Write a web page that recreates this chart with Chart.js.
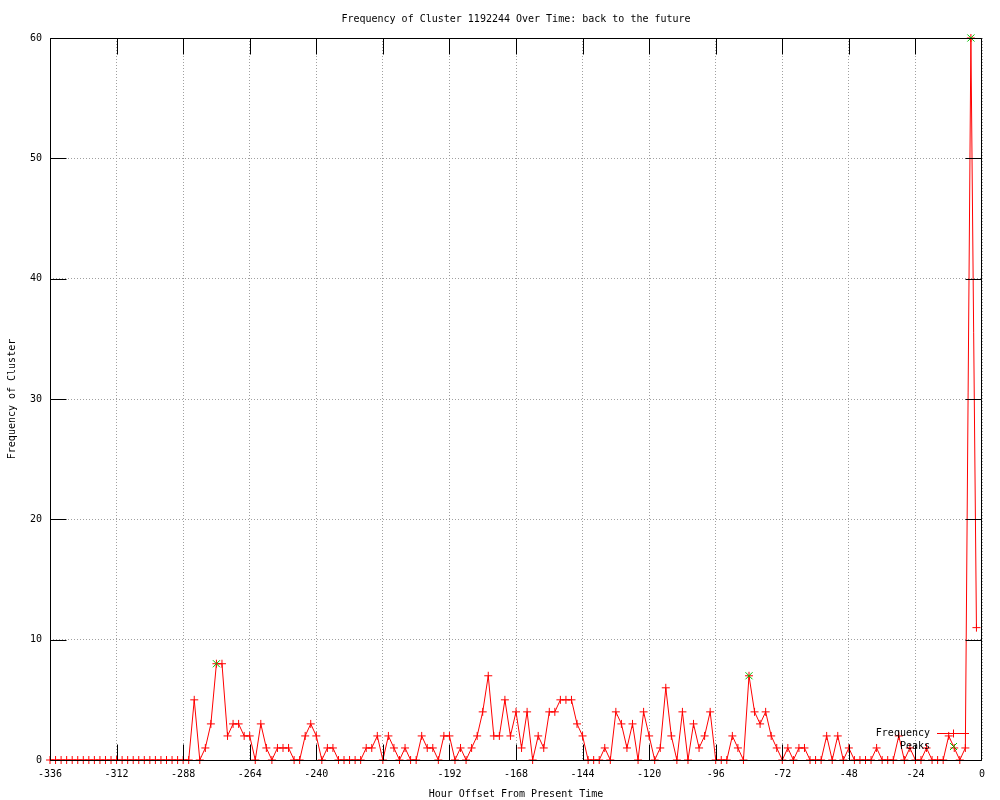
<!DOCTYPE html>
<html>
<head>
<meta charset="utf-8">
<script src="https://cdn.jsdelivr.net/npm/chart.js@4/dist/chart.umd.min.js"></script>
<style>
  body { margin: 0; background: #fff; }
  canvas { display: block; }
</style>
</head>
<body>
<canvas id="freq-chart" width="1000" height="800"></canvas>
<script>
const titleText = 'Frequency of Cluster 1192244 Over Time: back to the future';

// hour offsets, every 2 hours
const hours = [
  -336, -334, -332, -330, -328, -326, -324, -322, -320, -318, -316, -314,
  -312, -310, -308, -306, -304, -302, -300, -298, -296, -294, -292, -290,
  -288, -286, -284, -282, -280, -278, -276, -274, -272, -270, -268, -266,
  -264, -262, -260, -258, -256, -254, -252, -250, -248, -246, -244, -242,
  -240, -238, -236, -234, -232, -230, -228, -226, -224, -222, -220, -218,
  -216, -214, -212, -210, -208, -206, -204, -202, -200, -198, -196, -194,
  -192, -190, -188, -186, -184, -182, -180, -178, -176, -174, -172, -170,
  -168, -166, -164, -162, -160, -158, -156, -154, -152, -150, -148, -146,
  -144, -142, -140, -138, -136, -134, -132, -130, -128, -126, -124, -122,
  -120, -118, -116, -114, -112, -110, -108, -106, -104, -102, -100, -98,
  -96, -94, -92, -90, -88, -86, -84, -82, -80, -78, -76, -74,
  -72, -70, -68, -66, -64, -62, -60, -58, -56, -54, -52, -50,
  -48, -46, -44, -42, -40, -38, -36, -34, -32, -30, -28, -26,
  -24, -22, -20, -18, -16, -14, -12, -10, -8, -6, -4, -2
];

const frequency = [
  0, 0, 0, 0, 0, 0, 0, 0, 0, 0, 0, 0,
  0, 0, 0, 0, 0, 0, 0, 0, 0, 0, 0, 0,
  0, 0, 5, 0, 1, 3, 8, 8, 2, 3, 3, 2,
  2, 0, 3, 1, 0, 1, 1, 1, 0, 0, 2, 3,
  2, 0, 1, 1, 0, 0, 0, 0, 0, 1, 1, 2,
  0, 2, 1, 0, 1, 0, 0, 2, 1, 1, 0, 2,
  2, 0, 1, 0, 1, 2, 4, 7, 2, 2, 5, 2,
  4, 1, 4, 0, 2, 1, 4, 4, 5, 5, 5, 3,
  2, 0, 0, 0, 1, 0, 4, 3, 1, 3, 0, 4,
  2, 0, 1, 6, 2, 0, 4, 0, 3, 1, 2, 4,
  0, 0, 0, 2, 1, 0, 7, 4, 3, 4, 2, 1,
  0, 1, 0, 1, 1, 0, 0, 0, 2, 0, 2, 0,
  1, 0, 0, 0, 0, 1, 0, 0, 0, 2, 0, 1,
  0, 0, 1, 0, 0, 0, 2, 1, 0, 1, 60, 11
];

const peakHours = [-276, -84, -4];
const peakValues = [8, 7, 60];

const freqColor = '#ff0000';
const peakColor = '#00c000';

const monoFont = { family: '"DejaVu Sans Mono", "Liberation Mono", monospace', size: 10 };

// border, inward ticks, title and legend drawn gnuplot-style
const framePlugin = {
    id: 'frame',
    afterDatasetsDraw(chart) {
        const { ctx, chartArea: a, scales } = chart;
        const x = scales.x, y = scales.y;
        const tick = 16;
        const L = Math.round(a.left) + 0.5, R = Math.round(a.right) - 0.5;
        const T = Math.round(a.top) + 0.5, B = Math.round(a.bottom) + 0.5;
        ctx.save();
        ctx.strokeStyle = '#000';
        ctx.lineWidth = 1;
        ctx.setLineDash([]);
        ctx.beginPath();
        x.ticks.forEach(t => {
            const px = Math.min(Math.round(x.getPixelForValue(t.value)) + 0.5, R);
            ctx.moveTo(px, B); ctx.lineTo(px, B - tick);
            ctx.moveTo(px, T); ctx.lineTo(px, T + tick);
        });
        y.ticks.forEach(t => {
            const py = Math.round(y.getPixelForValue(t.value)) + 0.5;
            ctx.moveTo(L, py); ctx.lineTo(L + tick, py);
            ctx.moveTo(R, py); ctx.lineTo(R - tick, py);
        });
        ctx.rect(L, T, R - L, B - T);
        ctx.stroke();

        ctx.fillStyle = '#000';
        ctx.font = '10px ' + monoFont.family;
        ctx.textBaseline = 'middle';
        ctx.textAlign = 'center';
        ctx.fillText(titleText, (a.left + a.right) / 2, 19);

        // legend
        const textRight = Math.round(a.right) - 52;
        const sx1 = Math.round(a.right) - 45, sx2 = Math.round(a.right) - 13;
        const mx = Math.round((sx1 + sx2) / 2) + 0.5;
        const y1 = Math.round(a.bottom) - 27 + 0.5, y2 = y1 + 13;
        ctx.textAlign = 'right';
        ctx.fillText('Frequency', textRight, y1);
        ctx.fillText('Peaks', textRight, y2);

        ctx.strokeStyle = freqColor;
        ctx.beginPath();
        ctx.moveTo(sx1, y1); ctx.lineTo(sx2, y1);
        ctx.moveTo(mx - 4, y1); ctx.lineTo(mx + 4, y1);
        ctx.moveTo(mx, y1 - 4); ctx.lineTo(mx, y1 + 4);
        ctx.stroke();

        ctx.strokeStyle = peakColor;
        ctx.beginPath();
        ctx.moveTo(mx - 3.5, y2 - 3.5); ctx.lineTo(mx + 3.5, y2 + 3.5);
        ctx.moveTo(mx - 3.5, y2 + 3.5); ctx.lineTo(mx + 3.5, y2 - 3.5);
        ctx.stroke();
        ctx.restore();
    }
};

document.addEventListener('DOMContentLoaded', function() {
    const ctx = document.getElementById('freq-chart');
    new Chart(ctx, {
        type: 'line',
        data: {
            datasets: [{
                label: 'Frequency',
                data: hours.map((h, i) => ({ x: h, y: frequency[i] })),
                borderColor: freqColor,
                backgroundColor: freqColor,
                borderWidth: 1,
                pointStyle: 'cross',
                pointRadius: 4,
                pointBorderWidth: 1,
                tension: 0,
                clip: false,
                order: 1
            }, {
                label: 'Peaks',
                data: peakHours.map((h, i) => ({ x: h, y: peakValues[i] })),
                borderColor: peakColor,
                backgroundColor: peakColor,
                showLine: false,
                pointStyle: 'crossRot',
                pointRadius: 5,
                pointBorderWidth: 1,
                clip: false,
                order: 0
            }]
        },
        options: {
            responsive: false,
            animation: false,
            events: [],
            layout: { padding: { top: 38, right: 18, left: 0, bottom: 0 } },
            plugins: {
                legend: { display: false },
                title: { display: false },
                tooltip: { enabled: false }
            },
            scales: {
                x: {
                    type: 'linear',
                    min: -336,
                    max: 0,
                    afterFit: function(scale) { scale.height = 40; },
                    ticks: {
                        stepSize: 24,
                        autoSkip: false,
                        maxRotation: 0,
                        padding: 8,
                        color: '#000',
                        font: monoFont
                    },
                    grid: {
                        color: '#a0a0a0',
                        drawTicks: false
                    },
                    border: { display: false, dash: [1, 2] },
                    title: {
                        display: true,
                        text: 'Hour Offset From Present Time',
                        color: '#000',
                        font: monoFont,
                        padding: { top: 0, bottom: 0 }
                    }
                },
                y: {
                    min: 0,
                    max: 60,
                    afterFit: function(scale) { scale.width = 50; },
                    ticks: {
                        stepSize: 10,
                        padding: 8,
                        color: '#000',
                        font: monoFont
                    },
                    grid: {
                        color: '#a0a0a0',
                        drawTicks: false
                    },
                    border: { display: false, dash: [1, 2] },
                    title: {
                        display: true,
                        text: 'Frequency of Cluster',
                        color: '#000',
                        font: monoFont,
                        padding: { top: 6, bottom: 0 }
                    }
                }
            }
        },
        plugins: [framePlugin]
    });
});
</script>
</body>
</html>
